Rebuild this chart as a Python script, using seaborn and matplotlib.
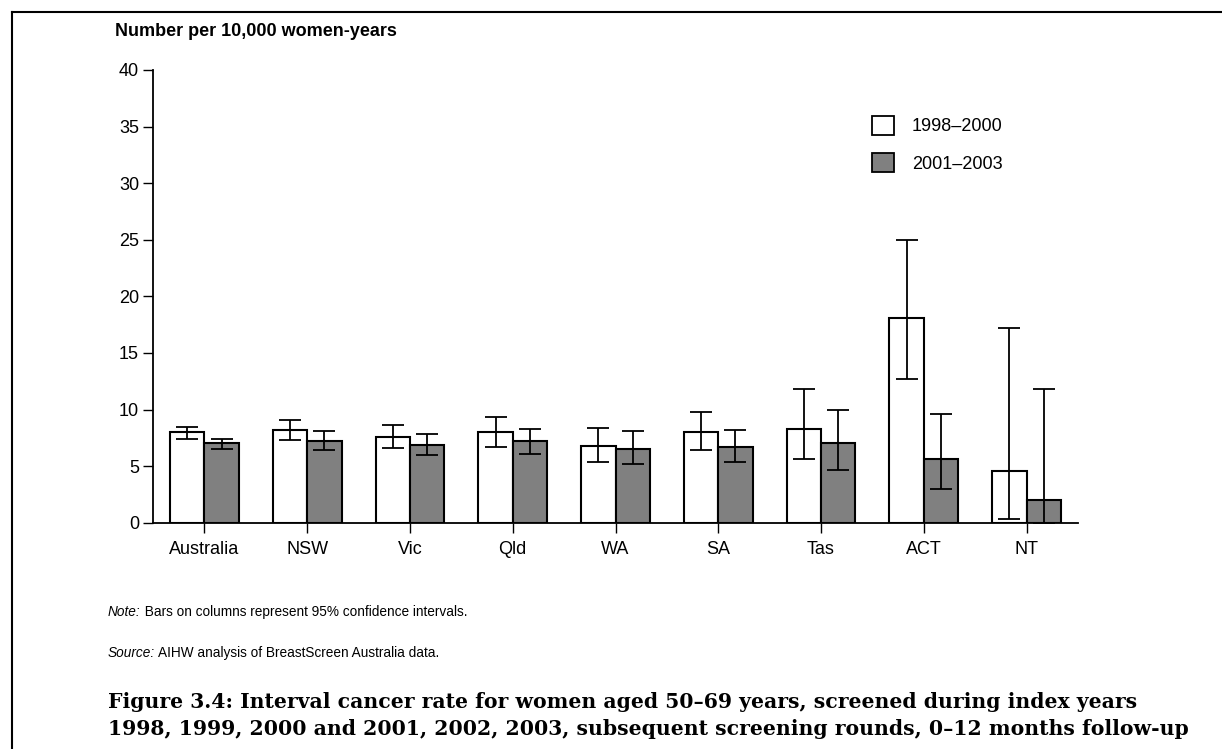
import numpy as np
import pandas as pd
import matplotlib
matplotlib.use('Agg')
import matplotlib.pyplot as plt
import seaborn as sns
from matplotlib.patches import Patch
from matplotlib.lines import Line2D

# interval cancer rate per 10,000 women-years, with 95% CI
states = ['Australia', 'NSW', 'Vic', 'Qld', 'WA', 'SA', 'Tas', 'ACT', 'NT']
periods = ['1998\u20132000', '2001\u20132003']

rate_9800 = [8.0, 8.2, 7.6, 8.0, 6.8, 8.0, 8.3, 18.1, 4.6]
lo_9800 = [7.4, 7.3, 6.6, 6.7, 5.4, 6.4, 5.6, 12.7, 0.3]
hi_9800 = [8.5, 9.1, 8.6, 9.3, 8.4, 9.8, 11.8, 25.0, 17.2]

rate_0103 = [7.0, 7.2, 6.9, 7.2, 6.5, 6.7, 7.0, 5.6, 2.0]
lo_0103 = [6.5, 6.4, 6.0, 6.1, 5.2, 5.4, 4.7, 3.0, 0.0]
hi_0103 = [7.4, 8.1, 7.8, 8.3, 8.1, 8.2, 10.0, 9.6, 11.8]

yticks = [0, 5, 10, 15, 20, 25, 30, 35, 40]

df = pd.DataFrame({
    'state': states * 2,
    'period': [periods[0]] * len(states) + [periods[1]] * len(states),
    'rate': rate_9800 + rate_0103,
})

plt.rcParams['font.family'] = ['Liberation Sans', 'DejaVu Sans']

fig = plt.figure(figsize=(12.22, 7.49), dpi=100)
ax = fig.add_axes([153 / 1222, 1 - 522.7 / 749, (1078 - 153) / 1222, (522.7 - 70) / 749])

sns.barplot(data=df, x='state', y='rate', hue='period', order=states, hue_order=periods,
            palette=['white', '#808080'], edgecolor='black', linewidth=1.5,
            width=0.67, errorbar=None, legend=False, ax=ax)

# asymmetric confidence intervals on top of each bar
for cont, rates, lo, hi in zip(ax.containers, [rate_9800, rate_0103],
                               [lo_9800, lo_0103], [hi_9800, hi_0103]):
    xs = [b.get_x() + b.get_width() / 2 for b in cont]
    r = np.array(rates)
    yerr = [r - np.array(lo), np.array(hi) - r]
    ax.errorbar(xs, r, yerr=yerr, fmt='none', ecolor='black', elinewidth=1.3,
                capsize=8, capthick=1.3, zorder=5)

ax.set_xlim(-0.5, 8.5)
ax.set_ylim(0, 40)
ax.set_yticks(yticks)
ax.set_xlabel('')
ax.set_ylabel('')
sns.despine(ax=ax)
for s in ['left', 'bottom']:
    ax.spines[s].set_linewidth(1.3)
ax.tick_params(axis='both', labelsize=13, length=7, width=1.0, colors='black')
ax.tick_params(axis='x', pad=6)
ax.tick_params(axis='y', pad=3)

handles = [Patch(facecolor='white', edgecolor='black', linewidth=1.3, label=periods[0]),
           Patch(facecolor='#808080', edgecolor='black', linewidth=1.3, label=periods[1])]
fig.legend(handles=handles, loc='upper left', bbox_to_anchor=(872 / 1222, 1 - 116 / 749),
           frameon=False, fontsize=13, handlelength=1.2, handleheight=1.2,
           handletextpad=1.0, labelspacing=1.0, borderpad=0, borderaxespad=0)

fig.text(115 / 1222, 1 - 31 / 749, 'Number per 10,000 women-years', fontsize=13,
         fontweight='bold', va='center', ha='left')

# italic lead-in followed by regular text
fig.canvas.draw()
r = fig.canvas.get_renderer()

def footnote(ypix, lead, rest):
    t = fig.text(108 / 1222, 1 - ypix / 749, lead, fontsize=9.8, style='italic',
                 va='baseline')
    bb = t.get_window_extent(renderer=r)
    fig.text(bb.x1 / fig.bbox.width, 1 - ypix / 749, rest, fontsize=9.8, va='baseline')

footnote(616, 'Note:', ' Bars on columns represent 95% confidence intervals.')
footnote(657, 'Source:', ' AIHW analysis of BreastScreen Australia data.')

fig.text(108 / 1222, 1 - 702 / 749,
         'Figure 3.4: Interval cancer rate for women aged 50\u201369 years, screened during index years',
         fontsize=14.7, fontweight='bold', family='DejaVu Serif', va='center')
fig.text(108 / 1222, 1 - 729 / 749,
         '1998, 1999, 2000 and 2001, 2002, 2003, subsequent screening rounds, 0\u201312 months follow-up',
         fontsize=14.7, fontweight='bold', family='DejaVu Serif', va='center')

# page frame
fig.add_artist(Line2D([12 / 1222, 12 / 1222], [0, 1 - 12 / 749], color='black', lw=1.5))
fig.add_artist(Line2D([12 / 1222, 1], [1 - 12 / 749, 1 - 12 / 749], color='black', lw=1.5))

fig.savefig('out.png', dpi=100)
